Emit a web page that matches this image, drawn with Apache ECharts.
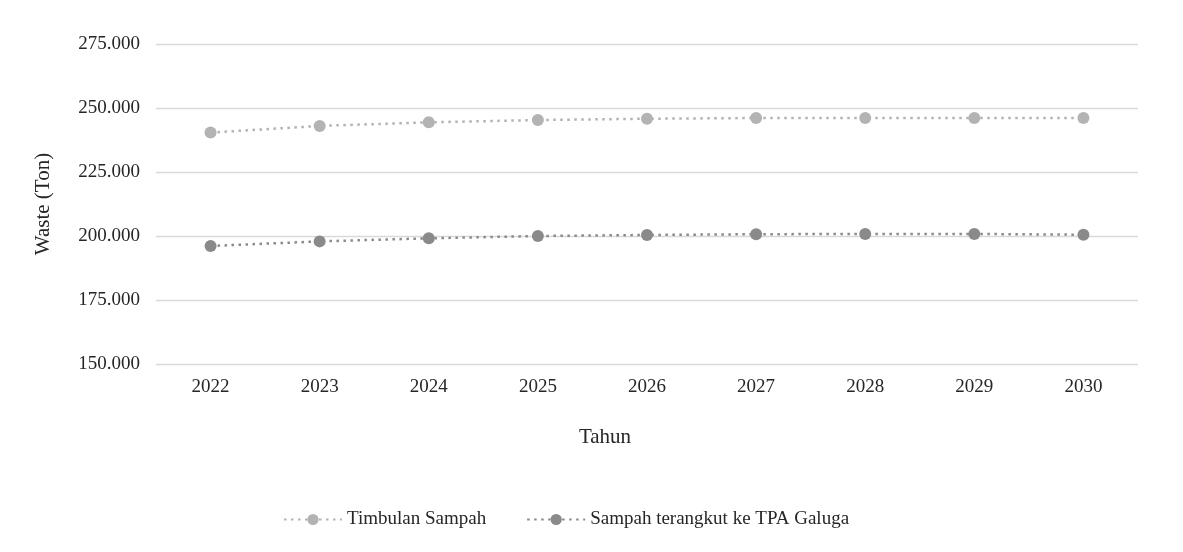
<!DOCTYPE html>
<html>
<head>
<meta charset="utf-8">
<script src="https://cdn.jsdelivr.net/npm/echarts@6/dist/echarts.min.js"></script>
<style>
  html, body { margin: 0; padding: 0; background: #fff; }
  #chart { width: 1183px; height: 552px; }
</style>
</head>
<body>
<div id="chart"></div>
<script>
const years = ['2022', '2023', '2024', '2025', '2026', '2027', '2028', '2029', '2030']
const timbulan = [240400, 243000, 244400, 245300, 245800, 246100, 246100, 246100, 246100]
const terangkut = [196100, 197900, 199100, 200000, 200400, 200700, 200800, 200800, 200500]
const seriesNames = ['Timbulan Sampah', 'Sampah terangkut ke TPA Galuga']
const seriesColors = ['#b3b3b3', '#8a8a8a']

const fontFamily = '"Liberation Serif", "Times New Roman", serif'

// 275000 -> "275.000"
const formatTon = (v) => String(v).replace(/\B(?=(\d{3})+(?!\d))/g, '.')

const makeSeries = (name, data, color) => ({
  name,
  type: 'line',
  data,
  symbol: 'circle',
  symbolSize: 12,
  itemStyle: { color },
  lineStyle: { color, width: 2.5, type: [2.5, 4.5] },
  emphasis: { disabled: true },
  animation: false
})

const chart = echarts.init(document.getElementById('chart'))
chart.setOption({
  backgroundColor: '#ffffff',
  textStyle: { fontFamily },
  grid: { left: 156, right: 45, top: 44, bottom: 188 },
  title: {
    text: 'Tahun',
    left: 600,
    top: 422,
    textAlign: 'center',
    textStyle: { fontFamily, fontSize: 21, fontWeight: 'normal', color: '#262626' }
  },
  legend: {
    left: 278,
    top: 505,
    itemWidth: 58,
    itemHeight: 14,
    itemGap: 40,
    textStyle: { fontFamily, fontSize: 19, color: '#262626' },
    data: seriesNames
  },
  xAxis: {
    type: 'category',
    data: years,
    boundaryGap: true,
    axisLine: { show: false },
    axisTick: { show: false },
    axisLabel: { fontFamily, fontSize: 19, color: '#262626', margin: 14 }
  },
  yAxis: {
    type: 'value',
    min: 150000,
    max: 275000,
    interval: 25000,
    name: 'Waste (Ton)',
    nameLocation: 'middle',
    nameGap: 102,
    nameTextStyle: { fontFamily, fontSize: 21, color: '#262626' },
    axisLine: { show: false },
    axisTick: { show: false },
    axisLabel: { fontFamily, fontSize: 19, color: '#262626', margin: 16, formatter: formatTon },
    splitLine: { lineStyle: { color: '#d9d9d9', width: 1.3 } }
  },
  series: [
    makeSeries(seriesNames[0], timbulan, seriesColors[0]),
    makeSeries(seriesNames[1], terangkut, seriesColors[1])
  ]
})
</script>
</body>
</html>
